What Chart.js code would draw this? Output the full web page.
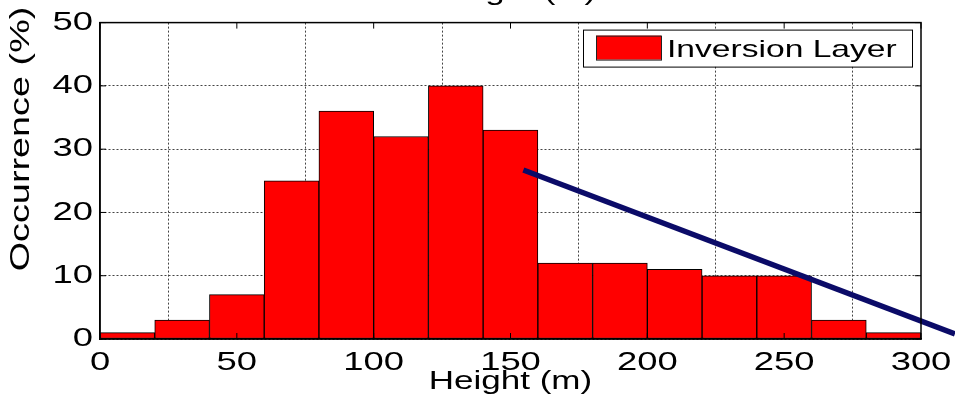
<!DOCTYPE html>
<html>
<head>
<meta charset="utf-8">
<title>Inversion layer height histogram</title>
<script src="https://cdn.jsdelivr.net/npm/chart.js@4.4.1/dist/chart.umd.min.js"></script>
<style>
    html, body { margin: 0; padding: 0; background: #fff; }
    #wrap { width: 955px; height: 403px; }
</style>
</head>
<body>
<div id="wrap"><canvas id="histChart" width="955" height="403"></canvas></div>
<script>
// histogram of inversion layer height, 20 m bins
var binCenters = [10, 30, 50, 70, 90, 110, 130, 150, 170, 190, 210, 230, 250, 270, 290];
var occurrence = [1, 3, 7, 25, 36, 32, 40, 33, 12, 12, 11, 10, 10, 3, 1];
// the dark blue line laid over the histogram (height m, occurrence %)
var trendX = [154.7, 312.4];
var trendY = [26.7, 0.8];
var xTicks = [0, 50, 100, 150, 200, 250, 300];
var yTicks = [0, 10, 20, 30, 40, 50];
var seriesName = 'Inversion Layer';

var FONT = 'Liberation Sans, Arial, Helvetica, sans-serif';
var STRETCH = 1.4; // the original figure text is horizontally stretched

var canvas = document.getElementById('histChart');
var c2d = canvas.getContext('2d');
var rawFillText = c2d.fillText;
c2d.fillText = function (text, x, y, maxWidth) {
    this.save();
    this.translate(x, y);
    this.scale(STRETCH, 1);
    if (maxWidth === undefined) rawFillText.call(this, text, 0, 0);
    else rawFillText.call(this, text, 0, 0, maxWidth / STRETCH);
    this.restore();
};

function seg(ctx, x1, y1, x2, y2) {
    ctx.beginPath();
    ctx.moveTo(x1, y1);
    ctx.lineTo(x2, y2);
    ctx.stroke();
}

var matlabLook = {
    id: 'matlabLook',
    afterDraw(chart) {
        var ctx = chart.ctx, a = chart.chartArea;
        var xs = chart.scales.x, ys = chart.scales.y;
        ctx.save();
        // axes box
        ctx.strokeStyle = '#000';
        ctx.lineWidth = 1.5;
        ctx.setLineDash([]);
        ctx.strokeRect(a.left, a.top, a.right - a.left, a.bottom - a.top);
        // inward tick marks on all sides
        ctx.lineWidth = 1;
        xTicks.forEach(function (v) {
            var px = xs.getPixelForValue(v);
            seg(ctx, px, a.bottom, px, a.bottom - 6);
            seg(ctx, px, a.top, px, a.top + 6);
        });
        yTicks.forEach(function (v) {
            var py = ys.getPixelForValue(v);
            seg(ctx, a.left, py, a.left + 6, py);
            seg(ctx, a.right, py, a.right - 6, py);
        });

        // legend box, top right inside the axes
        var bx = a.right - 338, by = a.top + 7, bw = 329, bh = 37;
        ctx.fillStyle = '#fff';
        ctx.fillRect(bx, by, bw, bh);
        ctx.strokeStyle = '#000';
        ctx.lineWidth = 1;
        ctx.strokeRect(bx + 0.5, by + 0.5, bw, bh);
        ctx.fillStyle = '#ff0000';
        ctx.fillRect(bx + 13, by + 6, 65, 24);
        ctx.strokeStyle = '#222';
        ctx.strokeRect(bx + 13.5, by + 6.5, 65, 24);
        ctx.fillStyle = '#000';
        ctx.font = '24px ' + FONT;
        ctx.textAlign = 'left';
        ctx.textBaseline = 'alphabetic';
        ctx.fillText(chart.data.datasets[1].label, bx + 84, by + 27);

        // y axis title
        ctx.save();
        ctx.translate(22, 139);
        ctx.rotate(-Math.PI / 2);
        ctx.font = '27px ' + FONT;
        ctx.textAlign = 'center';
        ctx.textBaseline = 'middle';
        ctx.fillText('Occurrence (%)', 0, 0);
        ctx.restore();

        // x label of the panel above, cut off by the top edge
        ctx.font = '25px ' + FONT;
        ctx.textAlign = 'center';
        ctx.textBaseline = 'alphabetic';
        ctx.fillText('Height (m)', (a.left + a.right) / 2 + 4, 0);
        ctx.restore();
    }
};

var chart = new Chart(c2d, {
    type: 'bar',
    data: {
        datasets: [
            {
                type: 'line',
                label: 'trend',
                data: trendX.map(function (x, i) { return {x: x, y: trendY[i]}; }),
                borderColor: '#0b0b68',
                borderWidth: 5.5,
                pointRadius: 0,
                clip: false,
                order: 0
            },
            {
                label: seriesName,
                data: binCenters.map(function (x, i) { return {x: x, y: occurrence[i]}; }),
                backgroundColor: '#ff0000',
                borderColor: '#000',
                borderWidth: 1,
                borderSkipped: false,
                barPercentage: 1,
                categoryPercentage: 1,
                order: 1
            }
        ]
    },
    options: {
        responsive: false,
        animation: false,
        devicePixelRatio: 1,
        layout: {padding: {top: 17, right: 34, bottom: 0, left: 0}},
        plugins: {
            legend: {display: false},
            tooltip: {enabled: false}
        },
        scales: {
            x: {
                type: 'linear',
                min: 0,
                max: 300,
                offset: false,
                afterBuildTicks: function (s) { s.ticks = xTicks.map(function (v) { return {value: v}; }); },
                afterFit: function (s) { s.height = 64; },
                grid: {color: '#444', lineWidth: 1, drawTicks: false},
                border: {display: true, color: '#000', width: 1.5, dash: [2, 2]},
                ticks: {color: '#000', font: {family: FONT, size: 26}, padding: 8, maxRotation: 0, autoSkip: false},
                title: {display: true, text: 'Height (m)', color: '#000', font: {family: FONT, size: 25}, padding: {top: 0, bottom: 6}}
            },
            y: {
                min: 0,
                max: 50,
                afterBuildTicks: function (s) { s.ticks = yTicks.map(function (v) { return {value: v}; }); },
                afterFit: function (s) { s.width = 100; },
                grid: {color: '#444', lineWidth: 1, drawTicks: false},
                border: {display: true, color: '#000', width: 1.5, dash: [2, 2]},
                ticks: {color: '#000', font: {family: FONT, size: 26}, padding: 7}
            }
        }
    },
    plugins: [matlabLook]
});
</script>
</body>
</html>
